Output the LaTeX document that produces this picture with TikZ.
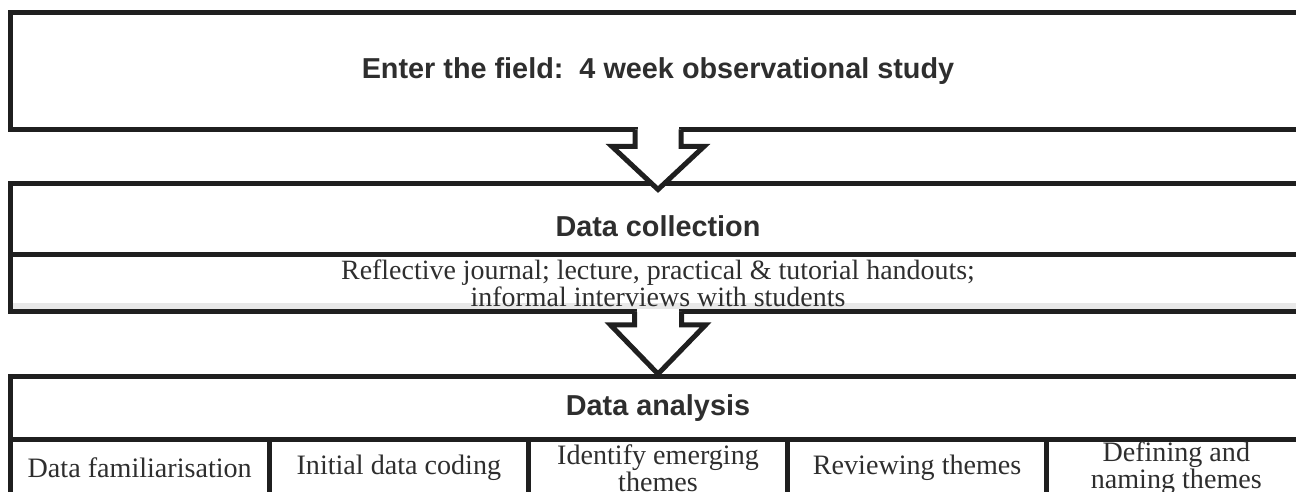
\documentclass[tikz,border=0pt]{standalone}
\usepackage{fontspec}
\setmainfont{Liberation Serif}
\setsansfont{Liberation Sans}
\usetikzlibrary{positioning, calc}

\tikzset{
  frame/.style={draw=black!88, line width=0.1cm, outer sep=0, inner sep=0,
    minimum width=25.92cm, text=black!82},
  heading/.style={font=\sffamily\bfseries\fontsize{16.4}{19}\selectfont},
  notes/.style={font=\fontsize{15.9}{12.6}\selectfont, align=center},
  stage/.style={frame, minimum width=5.184cm, minimum height=1.12cm,
    font=\fontsize{16}{12.5}\selectfont, align=center},
  flow/.style={draw=black!88, line width=0.1cm, fill=white, line join=miter},
}

\begin{document}
\begin{tikzpicture}[x=0.02cm, y=-0.02cm]
  \useasboundingbox (0,0) rectangle (1296,492);
  \clip (0,0) rectangle (1296,492);

  % grey strip at the foot of the collection box
  \fill [black!9] (12.5,303.5) rectangle (1296,309.5);

  % field study
  \node [frame, heading, minimum height=2.34cm] (field) at (658,71)
    {Enter the field:\ \ 4 week observational study};

  % data collection
  \node [frame, heading, minimum height=1.42cm, text height=0.7cm] (collect) at (658,219.5)
    {Data collection};
  \node [frame, notes, minimum height=1.14cm, below=0pt of collect] (sources)
    {Reflective journal; lecture, practical \& tutorial handouts;\\
     informal interviews with students};

  % data analysis
  \node [frame, heading, minimum height=1.28cm] (analysis) at (658,408) {Data analysis};
  \node [stage, anchor=north west] (fam) at (analysis.south west) {Data familiarisation};
  \node [stage, right=0pt of fam] (coding) {Initial data coding};
  \node [stage, right=0pt of coding] (emerge) {Identify emerging\\ themes};
  \node [stage, right=0pt of emerge] (review) {Reviewing themes};
  \node [stage, right=0pt of review] (naming) {Defining and\\ naming themes};

  % block arrows
  \fill [white] ($(field.south)+(-20.5,-3)$) rectangle ($(field.south)+(20.5,3)$);
  \filldraw [flow] ($(field.south)+(-23,0)$) -- ++(0,17) -- ++(-23,0)
    -- ++(46,43) -- ++(46,-43) -- ++(-23,0) -- ++(0,-17);

  \fill [white] ($(sources.south)+(-21,-3)$) rectangle ($(sources.south)+(21,3)$);
  \filldraw [flow] ($(sources.south)+(-23.5,0)$) -- ++(0,13) -- ++(-24,0)
    -- ++(47.5,49) -- ++(47.5,-49) -- ++(-24,0) -- ++(0,-13);
\end{tikzpicture}
\end{document}
